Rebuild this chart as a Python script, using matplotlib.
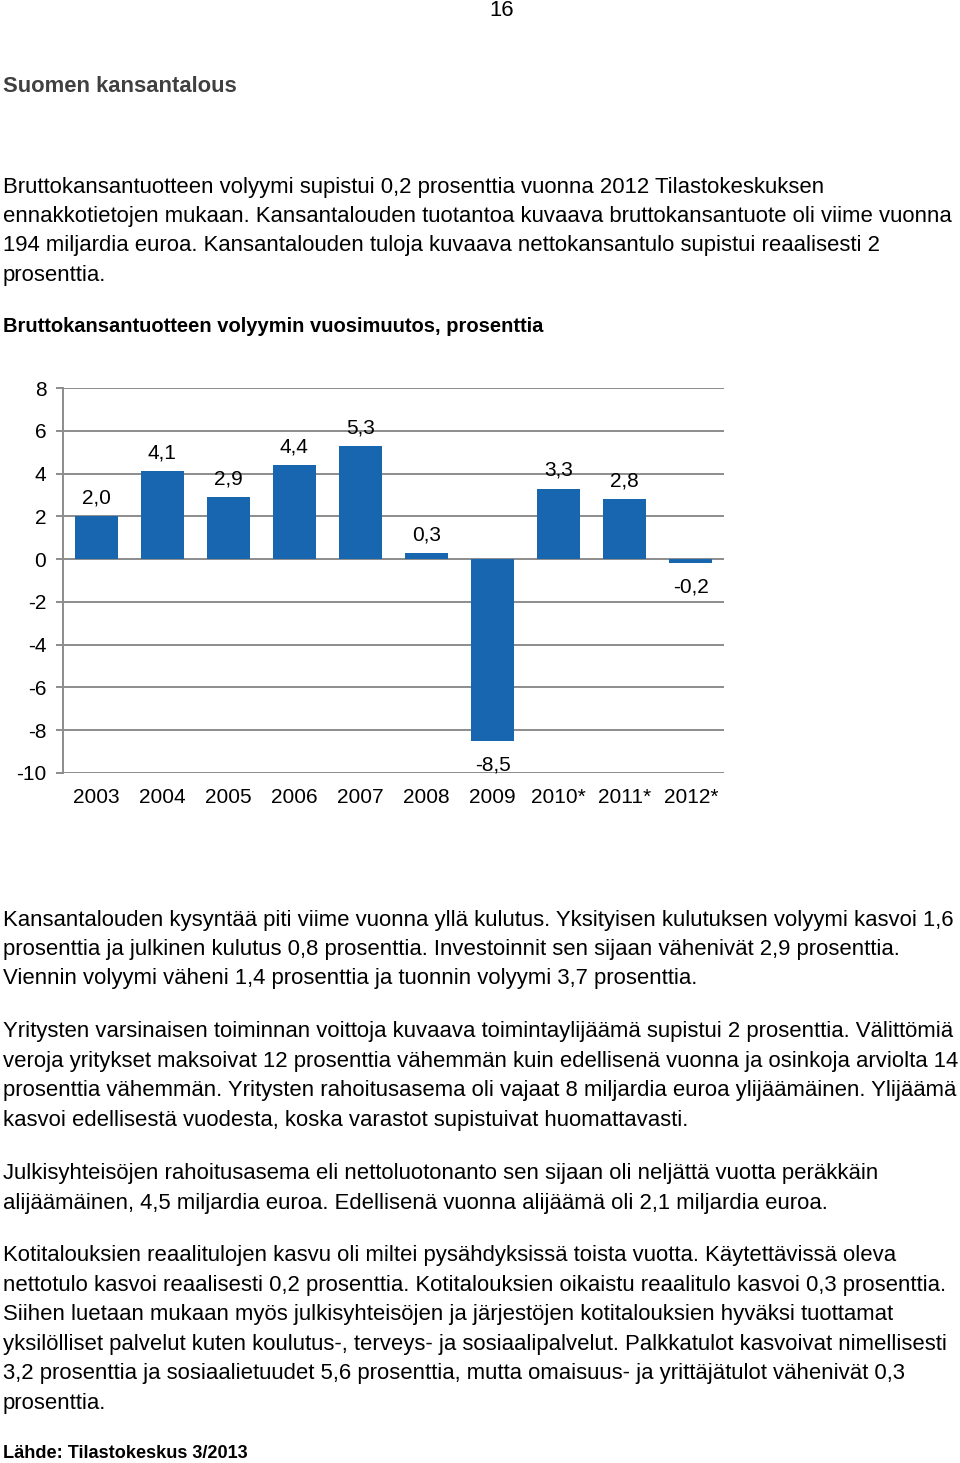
import matplotlib.pyplot as plt

plt.rcParams['axes.unicode_minus'] = False

# chart data
years = ['2003', '2004', '2005', '2006', '2007', '2008', '2009', '2010*', '2011*', '2012*']
growth = [2.0, 4.1, 2.9, 4.4, 5.3, 0.3, -8.5, 3.3, 2.8, -0.2]
yticks = [-10, -8, -6, -4, -2, 0, 2, 4, 6, 8]

# page text
heading = 'Suomen kansantalous'
para1 = ['Bruttokansantuotteen volyymi supistui 0,2 prosenttia vuonna 2012 Tilastokeskuksen',
         'ennakkotietojen mukaan. Kansantalouden tuotantoa kuvaava bruttokansantuote oli viime vuonna',
         '194 miljardia euroa. Kansantalouden tuloja kuvaava nettokansantulo supistui reaalisesti 2',
         'prosenttia.']
chart_title = 'Bruttokansantuotteen volyymin vuosimuutos, prosenttia'
para2 = ['Kansantalouden kysyntää piti viime vuonna yllä kulutus. Yksityisen kulutuksen volyymi kasvoi 1,6',
         'prosenttia ja julkinen kulutus 0,8 prosenttia. Investoinnit sen sijaan vähenivät 2,9 prosenttia.',
         'Viennin volyymi väheni 1,4 prosenttia ja tuonnin volyymi 3,7 prosenttia.']
para3 = ['Yritysten varsinaisen toiminnan voittoja kuvaava toimintaylijäämä supistui 2 prosenttia. Välittömiä',
         'veroja yritykset maksoivat 12 prosenttia vähemmän kuin edellisenä vuonna ja osinkoja arviolta 14',
         'prosenttia vähemmän. Yritysten rahoitusasema oli vajaat 8 miljardia euroa ylijäämäinen. Ylijäämä',
         'kasvoi edellisestä vuodesta, koska varastot supistuivat huomattavasti.']
para4 = ['Julkisyhteisöjen rahoitusasema eli nettoluotonanto sen sijaan oli neljättä vuotta peräkkäin',
         'alijäämäinen, 4,5 miljardia euroa. Edellisenä vuonna alijäämä oli 2,1 miljardia euroa.']
para5 = ['Kotitalouksien reaalitulojen kasvu oli miltei pysähdyksissä toista vuotta. Käytettävissä oleva',
         'nettotulo kasvoi reaalisesti 0,2 prosenttia. Kotitalouksien oikaistu reaalitulo kasvoi 0,3 prosenttia.',
         'Siihen luetaan mukaan myös julkisyhteisöjen ja järjestöjen kotitalouksien hyväksi tuottamat',
         'yksilölliset palvelut kuten koulutus-, terveys- ja sosiaalipalvelut. Palkkatulot kasvoivat nimellisesti',
         '3,2 prosenttia ja sosiaalietuudet 5,6 prosenttia, mutta omaisuus- ja yrittäjätulot vähenivät 0,3',
         'prosenttia.']
source = 'Lähde: Tilastokeskus 3/2013'

W, H = 960, 1463
fig = plt.figure(figsize=(W / 100, H / 100), dpi=100)
body = ['Liberation Sans', 'DejaVu Sans']


def put(x, y, s, **kw):
    # x, y in page pixels (y from top)
    fig.text(x / W, 1 - y / H, s, va='center', ha='left', family=body, **kw)


def block(lines, y0, step=29.4):
    for i, line in enumerate(lines):
        put(3, y0 + i * step, line, fontsize=15.95)


fig.text(502 / W, 1 - 11 / H, '16', ha='center', va='center', family=body, fontsize=15.9)
put(3, 86, heading, fontsize=15.8, weight='bold', color='#404040')
block(para1, 187)
put(3, 326, chart_title, fontsize=14.5, weight='bold')
block(para2, 920)
block(para3, 1032)
block(para4, 1174)
block(para5, 1256)
put(3, 1453, source, fontsize=13.1, weight='bold')

# bar chart
ax = fig.add_axes([63 / W, 1 - 773 / H, 661 / W, 385 / H])
x = range(len(years))
ax.bar(x, growth, width=0.65, color='#1866b0', zorder=3)
ax.set_xlim(-0.5, len(years) - 0.5)
ax.set_ylim(-10, 8)
ax.set_yticks(yticks)
ax.set_xticks(list(x))
ax.set_xticklabels(years)
ax.yaxis.grid(True, color='#8c8c8c', linewidth=1.4, zorder=0)
ax.set_axisbelow(True)
for s in ['top', 'right', 'bottom']:
    ax.spines[s].set_visible(False)
ax.spines['left'].set_color('#8c8c8c')
ax.spines['left'].set_linewidth(1.4)
ax.tick_params(axis='y', length=5, width=1.4, color='#8c8c8c', pad=7)
ax.tick_params(axis='x', length=0, pad=11)
for lab in ax.get_xticklabels() + ax.get_yticklabels():
    lab.set_family(body)
    lab.set_fontsize(15)

for i, v in enumerate(growth):
    off = 13 if v >= 0 else -17
    ax.annotate(f'{v:.1f}'.replace('.', ','), (i, v), xytext=(0, off),
                textcoords='offset points', ha='center', va='center',
                family=body, fontsize=15)

fig.savefig('out.png', dpi=100)
